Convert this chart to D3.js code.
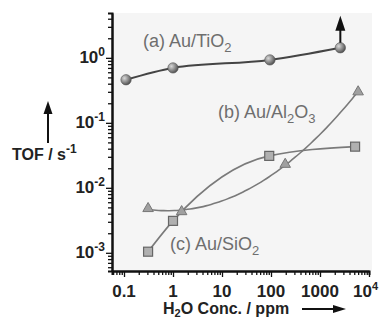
<!DOCTYPE html>
<html>
<head>
<meta charset="utf-8">
<script src="https://cdn.jsdelivr.net/npm/d3@7"></script>
<style>
  body { margin: 0; background: #fff; }
  text { font-family: "Liberation Sans", Arial, sans-serif; }
</style>
</head>
<body>
<svg id="chart" width="382" height="321"></svg>
<script>
// water concentration (ppm) and TOF (s^-1)
const tioX = [0.11, 1.0, 95, 2600]
const tioY = [0.46, 0.70, 0.93, 1.43]
const alX = [0.31, 1.5, 195, 6000]
const alY = [0.0048, 0.0043, 0.023, 0.30]
const siX = [0.31, 1.0, 92, 5200]
const siY = [0.00104, 0.0031, 0.031, 0.043]

const xMajor = [0.1, 1, 10, 100, 1000, 10000]
const xLabels = ['0.1', '1', '10', '100', '1000', '10^4']
const yMajor = [1, 0.1, 0.01, 0.001]
const yExp = ['0', '-1', '-2', '-3']

const svg = d3.select('#chart')

const x = d3.scaleLog().domain([Math.pow(10, -1.245), 1e4]).range([112, 369])
const y = d3.scaleLog().domain([Math.pow(10, -3.28), Math.pow(10, 0.69)]).range([271, 13])

// plot background
svg.append('rect')
  .attr('x', 112).attr('y', 13)
  .attr('width', 260).attr('height', 258)
  .attr('fill', '#f5f5f5')

const defs = svg.append('defs')
const grad = defs.append('radialGradient').attr('id', 'ball')
  .attr('cx', '35%').attr('cy', '35%').attr('r', '65%')
grad.append('stop').attr('offset', '0%').attr('stop-color', '#d8d8d8')
grad.append('stop').attr('offset', '100%').attr('stop-color', '#555')

// minor ticks
function minors(lo, hi) {
  let out = []
  for (let e = lo; e <= hi; e++) {
    for (let m = 2; m <= 9; m++) out.push(m * Math.pow(10, e))
  }
  return out
}
const xMinor = minors(-2, 3).filter(v => v >= x.domain()[0] && v <= 1e4)
const yMinor = minors(-4, 0).filter(v => v >= y.domain()[0] && v <= y.domain()[1])

svg.append('g').attr('transform', 'translate(0,271)')
  .call(d3.axisBottom(x).tickValues(xMinor).tickSize(4).tickFormat(''))
svg.append('g').attr('transform', 'translate(0,271)')
  .call(d3.axisBottom(x).tickValues(xMajor).tickSize(6).tickFormat('').tickSizeOuter(0))
svg.append('g').attr('transform', 'translate(112,0)')
  .call(d3.axisLeft(y).tickValues(yMinor).tickSize(4).tickFormat(''))
svg.append('g').attr('transform', 'translate(112,0)')
  .call(d3.axisLeft(y).tickValues(yMajor).tickSize(6).tickFormat('').tickSizeOuter(0))

svg.selectAll('.domain').attr('stroke', '#111').attr('stroke-width', 2)
svg.selectAll('.tick line').attr('stroke', '#111').attr('stroke-width', 1.3)

// x tick labels
xMajor.forEach((v, i) => {
  const t = svg.append('text')
    .attr('x', x(v)).attr('y', 297)
    .attr('text-anchor', 'middle')
    .attr('font-size', 17).attr('font-weight', 'bold').attr('fill', '#222')
  if (xLabels[i] === '10^4') {
    t.attr('text-anchor', 'start').attr('x', x(v) - 16)
    t.append('tspan').text('10')
    t.append('tspan').attr('dy', -7).attr('font-size', 11).text('4')
  } else {
    t.text(xLabels[i])
  }
})

// y tick labels
yMajor.forEach((v, i) => {
  const t = svg.append('text')
    .attr('x', 105).attr('y', y(v) + 5)
    .attr('text-anchor', 'end')
    .attr('font-size', 17).attr('font-weight', 'bold').attr('fill', '#222')
  t.append('tspan').text('10')
  t.append('tspan').attr('dy', -7).attr('font-size', 12).text(yExp[i])
})

// axis titles
const yt = svg.append('text').attr('x', 12).attr('y', 160)
  .attr('font-size', 16).attr('font-weight', 'bold').attr('fill', '#222')
yt.append('tspan').text('TOF / s')
yt.append('tspan').attr('dy', -7).attr('font-size', 12).text('-1')

const xt = svg.append('text').attr('x', 163).attr('y', 314)
  .attr('font-size', 16).attr('font-weight', 'bold').attr('fill', '#222')
xt.append('tspan').text('H')
xt.append('tspan').attr('dy', 3).attr('font-size', 11).text('2')
xt.append('tspan').attr('dy', -3).text('O Conc. / ppm')

function arrow(x1, y1, x2, y2, head) {
  svg.append('line').attr('x1', x1).attr('y1', y1).attr('x2', x2).attr('y2', y2)
    .attr('stroke', '#111').attr('stroke-width', 2)
  svg.append('path').attr('d', head).attr('fill', '#111')
}
arrow(48, 143, 48, 110, 'M48,101 L43.5,114 L52.5,114 Z')
arrow(302, 309, 336, 309, 'M346,309 L333,305 L333,313 Z')

// fitted curves in log space
const lineGen = (xs, ys, curve) => d3.line()
  .x(d => x(d[0])).y(d => y(d[1])).curve(curve)(d3.zip(xs, ys))

svg.append('path').attr('d', lineGen(tioX, tioY, d3.curveMonotoneX))
  .attr('fill', 'none').attr('stroke', '#444').attr('stroke-width', 2)

svg.append('path').attr('d', lineGen(siX, siY, d3.curveMonotoneX))
  .attr('fill', 'none').attr('stroke', '#7a7a7a').attr('stroke-width', 1.6)

// quadratic least squares for Au/Al2O3 in log-log space
function quadFit(xs, ys) {
  const lx = xs.map(Math.log10), ly = ys.map(Math.log10)
  let S = [[0,0,0],[0,0,0],[0,0,0]], b = [0,0,0]
  lx.forEach((u, i) => {
    const p = [1, u, u * u]
    for (let r = 0; r < 3; r++) {
      b[r] += p[r] * ly[i]
      for (let c = 0; c < 3; c++) S[r][c] += p[r] * p[c]
    }
  })
  // gaussian elimination
  for (let k = 0; k < 3; k++) {
    for (let r = k + 1; r < 3; r++) {
      const f = S[r][k] / S[k][k]
      for (let c = k; c < 3; c++) S[r][c] -= f * S[k][c]
      b[r] -= f * b[k]
    }
  }
  const a = [0,0,0]
  for (let r = 2; r >= 0; r--) {
    let s = b[r]
    for (let c = r + 1; c < 3; c++) s -= S[r][c] * a[c]
    a[r] = s / S[r][r]
  }
  return a
}
const qa = quadFit(alX, alY)
const lo = Math.log10(alX[0]), hi = Math.log10(alX[alX.length - 1])
const fitPts = d3.range(0, 41).map(i => {
  const u = lo + (hi - lo) * i / 40
  return [Math.pow(10, u), Math.pow(10, qa[0] + qa[1] * u + qa[2] * u * u)]
})
svg.append('path')
  .attr('d', d3.line().x(d => x(d[0])).y(d => y(d[1])).curve(d3.curveBasis)(fitPts))
  .attr('fill', 'none').attr('stroke', '#7a7a7a').attr('stroke-width', 1.6)

// markers
svg.selectAll('.ball').data(d3.zip(tioX, tioY)).join('circle')
  .attr('cx', d => x(d[0])).attr('cy', d => y(d[1])).attr('r', 5.2)
  .attr('fill', 'url(#ball)').attr('stroke', '#555').attr('stroke-width', 0.6)

const tri = d3.symbol().type(d3.symbolTriangle).size(48)
svg.selectAll('.tri').data(d3.zip(alX, alY)).join('path')
  .attr('d', tri)
  .attr('transform', d => `translate(${x(d[0])},${y(d[1])})`)
  .attr('fill', '#a0a0a0').attr('stroke', '#777').attr('stroke-width', 1)

svg.selectAll('.sq').data(d3.zip(siX, siY)).join('rect')
  .attr('x', d => x(d[0]) - 4.5).attr('y', d => y(d[1]) - 4.5)
  .attr('width', 9).attr('height', 9)
  .attr('fill', '#b0b0b0').attr('stroke', '#666').attr('stroke-width', 1.2)

// arrow above the last Au/TiO2 point
const ax = x(tioX[3]), ay = y(tioY[3])
arrow(ax, ay - 5, ax, ay - 24, `M${ax},${ay - 32} L${ax - 5},${ay - 17} L${ax + 5},${ay - 17} Z`)

// series labels
function seriesLabel(px, py, parts) {
  const t = svg.append('text').attr('x', px).attr('y', py)
    .attr('font-size', 18).attr('fill', '#6e6e6e')
  parts.forEach(p => {
    const s = t.append('tspan').text(p[0])
    if (p[1] === 'sub') s.attr('dy', 5).attr('font-size', 13)
    if (p[1] === 'up') s.attr('dy', -5)
  })
}
seriesLabel(143, 47, [['(a) Au/TiO'], ['2', 'sub']])
seriesLabel(218, 118, [['(b) Au/Al'], ['2', 'sub'], ['O', 'up'], ['3', 'sub']])
seriesLabel(170, 250, [['(c) Au/SiO'], ['2', 'sub']])
</script>
</body>
</html>
